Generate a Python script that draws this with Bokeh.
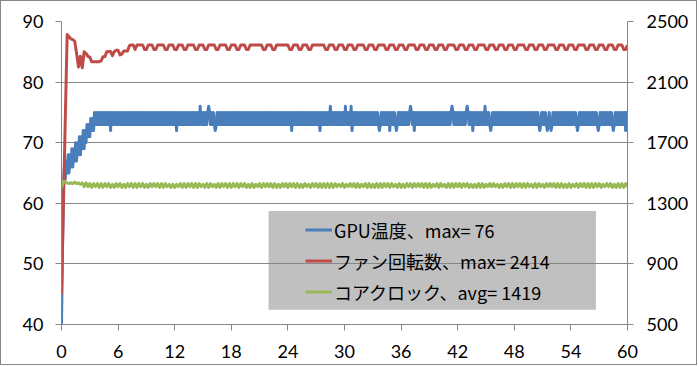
import numpy as np
from bokeh.plotting import figure
from bokeh.models import (Range1d, LinearAxis, FixedTicker, Legend, LegendItem,
                          BoxAnnotation)
from bokeh.embed import file_html
from bokeh.resources import INLINE

# ---------------- data ----------------
x_ticks = [0, 6, 12, 18, 24, 30, 36, 42, 48, 54, 60]          # minutes
temp_ticks = [40, 50, 60, 70, 80, 90]                          # left axis, degC
rpm_ticks = [500, 900, 1300, 1700, 2100, 2500]                 # right axis

legend_labels = ["GPU温度、max= 76", "ファン回転数、max= 2414", "コアクロック、avg= 1419"]

# GPU temperature, one sample every 0.1 min
temp_step = 0.1
temp_warmup = [40, 52, 62, 66, 64, 67, 65, 68, 65, 68,
               66, 69, 66, 69, 67, 70, 67, 70, 68, 71,
               68, 71, 69, 72, 69, 72, 70, 73, 71, 73,
               71, 74, 72, 74, 72, 75, 73, 75, 73, 75,
               73]                                             # t = 0.0 .. 4.0
temp_base = 70                                                 # steady codes: 70 + digit
temp_steady_codes = (
    "5353535353" "5253535353" "5353535353" "5353535353" "5353535353"   # 4.1 - 9.0
    "5353535353" "5353535353" "5353535353" "5253535353" "5353535353"   # 9.1 - 14.0
    "5353536353" "5353565353" "5323535353" "5353535353" "5353535353"   # 14.1 - 19.0
    "5353535353" "5353535353" "5353535353" "5353535353" "5353535353"   # 19.1 - 24.0
    "5352535353" "5353535353" "5353535353" "5352535353" "5353635353"   # 24.1 - 29.0
    "5353535353" "6353536253" "5353535353" "5353535353" "5353532353"   # 29.1 - 34.0
    "5353535253" "5353235353" "5353535356" "5352535353" "5353535353"   # 34.1 - 39.0
    "5353535353" "5353535353" "5356535353" "5353535356" "5353525353"   # 39.1 - 44.0
    "5353535363" "5353235353" "5353535353" "5353535353" "5353535353"   # 44.1 - 49.0
    "5353535353" "5353532353" "5353235323" "5353535353" "5353535353"   # 49.1 - 54.0
    "5353532353" "5353535353" "5353535323" "5353535353" "5353235353"   # 54.1 - 59.0
    "5353535253"                                                       # 59.1 - 60.0
)

# Fan speed (rpm), one sample every 0.2 min
fan_step = 0.2
fan_warmup = [700, 1280, 1850, 2414, 2400, 2385, 2380, 2370, 2290, 2200,
              2270, 2195, 2300, 2290, 2270, 2265, 2235, 2235, 2235, 2235,
              2235, 2240, 2268, 2268, 2300, 2302, 2302, 2275, 2302, 2310,
              2310, 2280, 2285, 2305, 2305, 2305, 2340, 2345, 2345, 2315,
              2345]                                            # t = 0.0 .. 8.0
fan_levels = {"H": 2345, "L": 2315}
fan_steady_codes = (
    "HHHLLHHHLL" "HHHHLLHHHL" "LHHHLLHHHH" "LLHHHLLHHH" "HLLHHHHLLH"
    "HHLLHHHLLH" "HHHHHHLLHH" "HLLHHHHHHH" "LLHHHLLHHH" "LLHHHHHHHL"
    "LHHHLLHHHL" "LHHHLLHHHH" "LLHHHLLHHH" "HLLHHHLLHH" "HLLHHHHLLH"
    "HHLLHHHLLH" "HHLLHHHHLL" "HHHLLHHHLL" "HHHHLLHHHL" "LHHHLLHHHL"
    "LHHHHLLHHH" "LLHHHLLHHH" "HLLHHHLLHH" "HLLHHHHLLH" "HHLLHHHLLH"
    "HHLLHHHLLH"
)                                                              # t = 8.2 .. 60.0

# Core clock (MHz), one sample every 0.2 min, value = 1400 + 5 * digit
clock_step = 0.2
clock_base, clock_unit = 1400, 5
clock_codes = (
    "0987676867" "5727261626" "1616261516" "2615162616" "1626151626"
    "2616162515" "1526161626" "1616251616" "2516162616" "1626162615"
    "1615261626" "2616151626" "1626161516" "2516261616" "1616162526"
    "1526261615" "2616151616" "1626162516" "1516261626" "2616161526"
    "1625161616" "2616261515" "1616152626" "2515162616" "1626161625"
    "1616251626" "2616161516" "1526162616" "1616261526" "2615161616"
    "2"
)

# ---------------- decode into series ----------------
temp_vals = temp_warmup + [temp_base + int(c) for c in temp_steady_codes]
temp_t = [round(i * temp_step, 3) for i in range(len(temp_vals))]

fan_vals = fan_warmup + [fan_levels[c] for c in fan_steady_codes]
fan_t = [round(i * fan_step, 3) for i in range(len(fan_vals))]

clock_vals = [clock_base + clock_unit * int(c) for c in clock_codes]
clock_t = [round(i * clock_step, 3) for i in range(len(clock_vals))]

# ---------------- figure ----------------
GRAY = "#868686"
TICK_FONT = "Lato"

p = figure(width=697, height=365, output_backend="svg", toolbar_location=None,
           x_range=Range1d(0, 60), y_range=Range1d(40, 90),
           min_border_left=60, min_border_right=71, min_border_top=20,
           min_border_bottom=42)
p.styles = {"border": "1px solid #868686"}
p.extra_y_ranges = {"rpm": Range1d(500, 2500)}
p.outline_line_color = None
p.background_fill_color = "white"
p.border_fill_color = "white"

right_axis = LinearAxis(y_range_name="rpm")
p.add_layout(right_axis, "right")

p.xaxis.ticker = FixedTicker(ticks=x_ticks)
p.yaxis[0].ticker = FixedTicker(ticks=temp_ticks)
right_axis.ticker = FixedTicker(ticks=rpm_ticks)

for ax in [p.xaxis[0], p.yaxis[0], right_axis]:
    ax.axis_line_color = GRAY
    ax.axis_line_width = 1
    ax.major_tick_line_color = GRAY
    ax.major_tick_out = 6
    ax.major_tick_in = 0
    ax.minor_tick_line_color = None
    ax.major_label_text_font = TICK_FONT
    ax.major_label_text_font_size = "18px"
    ax.major_label_text_color = "black"
p.yaxis[0].major_label_standoff = 12
right_axis.major_label_standoff = 13
p.xaxis[0].major_label_standoff = 14

p.xgrid.visible = False
p.ygrid.grid_line_color = GRAY
p.ygrid.grid_line_width = 1
p.ygrid.ticker = FixedTicker(ticks=temp_ticks)

# legend background box (under grid lines)
box = BoxAnnotation(left=21.95, right=56.65, bottom=42.45, top=58.75,
                    fill_color="#C0C0C0", fill_alpha=1.0, line_color=None,
                    level="image")
p.add_layout(box)

r_temp = p.line(temp_t, temp_vals, line_color="#4A7EBB", line_width=3, line_join="round")
r_fan = p.line(fan_t, fan_vals, y_range_name="rpm", line_color="#BE4B48",
               line_width=3, line_join="round")
r_clock = p.line(clock_t, clock_vals, y_range_name="rpm", line_color="#98B954",
                 line_width=3, line_join="round")

legend = Legend(items=[LegendItem(label=legend_labels[0], renderers=[r_temp]),
                       LegendItem(label=legend_labels[1], renderers=[r_fan]),
                       LegendItem(label=legend_labels[2], renderers=[r_clock])],
                location=(244, 17), orientation="vertical",
                background_fill_alpha=0, border_line_color=None,
                padding=0, margin=0, spacing=0,
                glyph_width=27, glyph_height=31, label_height=31,
                label_standoff=2,
                label_text_font="Noto Sans CJK JP",
                label_text_font_size="18px",
                label_text_color="black")
p.add_layout(legend)

open("out.html", "w").write(file_html(p, INLINE))
